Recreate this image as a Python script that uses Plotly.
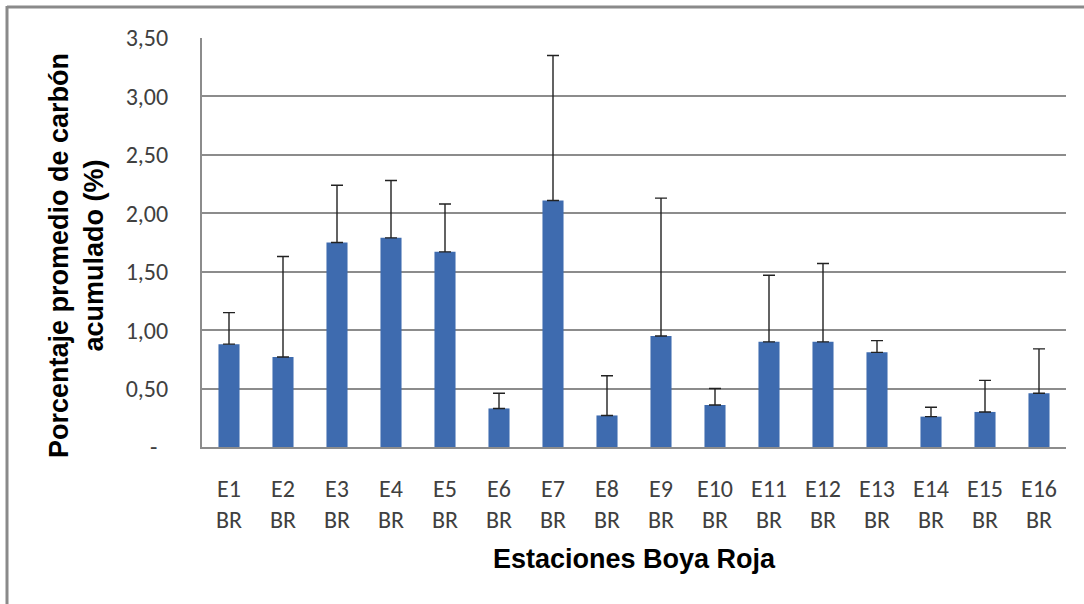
import plotly.graph_objects as go

stations = ["E1<br>BR", "E2<br>BR", "E3<br>BR", "E4<br>BR", "E5<br>BR", "E6<br>BR", "E7<br>BR", "E8<br>BR",
            "E9<br>BR", "E10<br>BR", "E11<br>BR", "E12<br>BR", "E13<br>BR", "E14<br>BR", "E15<br>BR", "E16<br>BR"]
mean_carbon = [0.88, 0.77, 1.75, 1.79, 1.67, 0.33, 2.11, 0.27, 0.95, 0.36, 0.90, 0.90, 0.81, 0.26, 0.30, 0.46]
upper_error = [0.27, 0.86, 0.49, 0.49, 0.41, 0.13, 1.24, 0.34, 1.18, 0.14, 0.57, 0.67, 0.10, 0.08, 0.27, 0.38]
tick_vals = [0, 0.5, 1.0, 1.5, 2.0, 2.5, 3.0, 3.5]
tick_text = ["-\u00a0\u00a0", "0,50", "1,00", "1,50", "2,00", "2,50", "3,00", "3,50"]

W, H = 1084, 604
L, R, T, B = 202, 18, 38, 157
pw, ph = W - L - R, H - T - B

def px(x):
    return (x - L) / pw

def py(y):
    return (H - B - y) / ph

fig = go.Figure()
fig.add_trace(go.Bar(
    x=stations, y=mean_carbon,
    marker=dict(color="#3E6BAF", line=dict(width=0)),
    error_y=dict(type="data", symmetric=False, array=upper_error,
                 arrayminus=[0] * len(upper_error),
                 color="#222222", thickness=1.4, width=6),
))

tick_font = dict(family="Carlito, Liberation Sans, Arial, sans-serif", size=24, color="#404040")
title_font = dict(family="Liberation Sans, Arial, sans-serif", size=27, color="black")

fig.update_layout(
    width=W, height=H,
    margin=dict(l=L, r=R, t=T, b=B),
    paper_bgcolor="white", plot_bgcolor="white",
    bargap=0.61,
    showlegend=False,
    xaxis=dict(
        showgrid=False, showline=True, linecolor="#8c8c8c", linewidth=2,
        ticks="", tickfont=tick_font, ticklabelstandoff=19,
    ),
    yaxis=dict(
        range=[0, 3.5], tickvals=tick_vals, ticktext=tick_text,
        showgrid=True, gridcolor="#8c8c8c", gridwidth=1.5,
        showline=True, linecolor="#8c8c8c", linewidth=2,
        zeroline=False, ticks="", tickfont=tick_font, ticklabelstandoff=27,
    ),
    annotations=[
        dict(text="<b>Porcentaje promedio de carbón<br>acumulado (%)</b>",
             xref="paper", yref="paper", x=px(76), y=py(256),
             xanchor="center", yanchor="middle", textangle=-90, showarrow=False,
             font=title_font),
        dict(text="<b>Estaciones Boya Roja</b>",
             xref="paper", yref="paper", x=px(634), y=py(559),
             xanchor="center", yanchor="middle", showarrow=False,
             font=title_font),
    ],
    shapes=[
        dict(type="line", xref="paper", yref="paper", x0=px(7), x1=px(W + 5), y0=py(7), y1=py(7),
             line=dict(color="#8a8a8a", width=3)),
        dict(type="line", xref="paper", yref="paper", x0=px(7), x1=px(7), y0=py(6), y1=py(H + 5),
             line=dict(color="#8a8a8a", width=3)),
    ],
)

fig.write_html("out.html", config={"displayModeBar": False},
               post_script="document.body.style.margin='0';document.body.style.overflow='hidden';")
